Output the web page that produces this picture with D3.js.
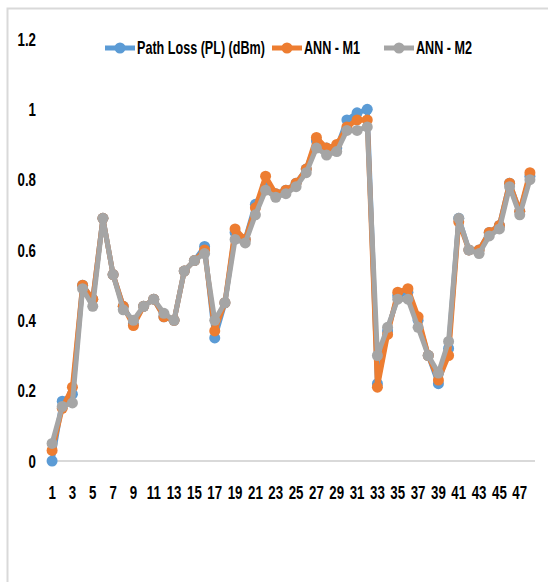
<!DOCTYPE html>
<html>
<head>
<meta charset="utf-8">
<script src="https://cdn.jsdelivr.net/npm/d3@7"></script>
<style>
  body { margin: 0; background: #fff; }
  text { font-family: "Liberation Sans", Arial, sans-serif; font-weight: bold; }
</style>
</head>
<body>
<div id="chart"></div>
<script>
const categories = d3.range(1, 49);
const seriesNames = ["Path Loss (PL) (dBm)", "ANN - M1", "ANN - M2"];
const seriesColors = ["#5B9BD5", "#ED7D31", "#A5A5A5"];

const pathLoss = [0, 0.17, 0.19, 0.5, 0.46, 0.69, 0.53, 0.44, 0.39, 0.44, 0.46, 0.41, 0.4, 0.54, 0.57, 0.61,
  0.35, 0.45, 0.65, 0.63, 0.73, 0.78, 0.76, 0.77, 0.79, 0.83, 0.91, 0.89, 0.89, 0.97, 0.99, 1.0,
  0.22, 0.37, 0.47, 0.48, 0.4, 0.3, 0.22, 0.32, 0.69, 0.6, 0.6, 0.65, 0.67, 0.79, 0.71, 0.81];
const annM1 = [0.03, 0.15, 0.21, 0.5, 0.46, 0.69, 0.53, 0.44, 0.385, 0.44, 0.46, 0.41, 0.4, 0.54, 0.57, 0.6,
  0.37, 0.45, 0.66, 0.63, 0.72, 0.81, 0.76, 0.77, 0.79, 0.83, 0.92, 0.89, 0.9, 0.95, 0.97, 0.97,
  0.21, 0.36, 0.48, 0.49, 0.41, 0.3, 0.23, 0.3, 0.68, 0.6, 0.6, 0.65, 0.67, 0.79, 0.71, 0.82];
const annM2 = [0.05, 0.155, 0.165, 0.49, 0.44, 0.69, 0.53, 0.43, 0.4, 0.44, 0.46, 0.42, 0.4, 0.54, 0.57, 0.59,
  0.4, 0.45, 0.63, 0.62, 0.7, 0.77, 0.75, 0.76, 0.78, 0.82, 0.89, 0.87, 0.88, 0.94, 0.94, 0.95,
  0.3, 0.38, 0.46, 0.46, 0.38, 0.3, 0.25, 0.34, 0.69, 0.6, 0.59, 0.64, 0.66, 0.78, 0.7, 0.8];
const yTicks = [0, 0.2, 0.4, 0.6, 0.8, 1, 1.2];
const xTicks = categories.filter(c => c % 2 === 1);

const width = 548;
const height = 582;
const squeeze = "scale(0.7,1)"; // the reference text is horizontally compressed

const svg = d3.select("#chart").append("svg")
  .attr("width", width)
  .attr("height", height);

// outer frame (only top and left visible in the crop)
svg.append("path")
  .attr("d", `M7.5,${height} V8.5 H${width}`)
  .attr("fill", "none")
  .attr("stroke", "#d9d9d9")
  .attr("stroke-width", 2);

const x = d3.scaleBand()
  .domain(categories)
  .range([47, 535]);

const y = d3.scaleLinear()
  .domain([0, 1.2])
  .range([461, 39]);

const cx = d => x(d) + x.bandwidth() / 2;

// baseline
svg.append("line")
  .attr("x1", 47).attr("x2", 535)
  .attr("y1", y(0)).attr("y2", y(0))
  .attr("stroke", "#d9d9d9")
  .attr("stroke-width", 2);

const yAxis = svg.append("g")
  .attr("transform", "translate(36,0)")
  .call(d3.axisLeft(y).tickValues(yTicks).tickSize(0).tickPadding(0).tickFormat(d => String(+d.toFixed(1))));
yAxis.select(".domain").remove();
yAxis.selectAll("text")
  .attr("font-size", 19)
  .attr("fill", "#000")
  .attr("transform", squeeze);

const xAxis = svg.append("g")
  .attr("transform", `translate(0,${y(0)})`)
  .call(d3.axisBottom(x).tickValues(xTicks).tickSize(0).tickPadding(25));
xAxis.select(".domain").remove();
xAxis.selectAll("text")
  .attr("font-size", 19)
  .attr("fill", "#000")
  .attr("transform", squeeze);

const allSeries = [pathLoss, annM1, annM2];

const line = d3.line()
  .x((d, i) => cx(categories[i]))
  .y(d => y(d));

allSeries.forEach((vals, s) => {
  const g = svg.append("g");
  g.append("path")
    .attr("d", line(vals))
    .attr("fill", "none")
    .attr("stroke", seriesColors[s])
    .attr("stroke-width", 5)
    .attr("stroke-linejoin", "round");
  g.selectAll("circle")
    .data(vals)
    .enter()
    .append("circle")
    .attr("cx", (d, i) => cx(categories[i]))
    .attr("cy", d => y(d))
    .attr("r", 5.5)
    .attr("fill", seriesColors[s]);
});

// legend
const legendX = [105, 272, 384];
const legend = svg.append("g").attr("transform", "translate(0,48)");
seriesNames.forEach((name, i) => {
  const lg = legend.append("g").attr("transform", `translate(${legendX[i]},0)`);
  lg.append("line")
    .attr("x1", 0).attr("x2", 30)
    .attr("stroke", seriesColors[i])
    .attr("stroke-width", 5);
  lg.append("circle")
    .attr("cx", 15).attr("r", 5.5)
    .attr("fill", seriesColors[i]);
  lg.append("g")
    .attr("transform", "translate(32,0) " + squeeze)
    .append("text")
    .attr("dy", "0.35em")
    .attr("font-size", 18)
    .text(name);
});
</script>
</body>
</html>
